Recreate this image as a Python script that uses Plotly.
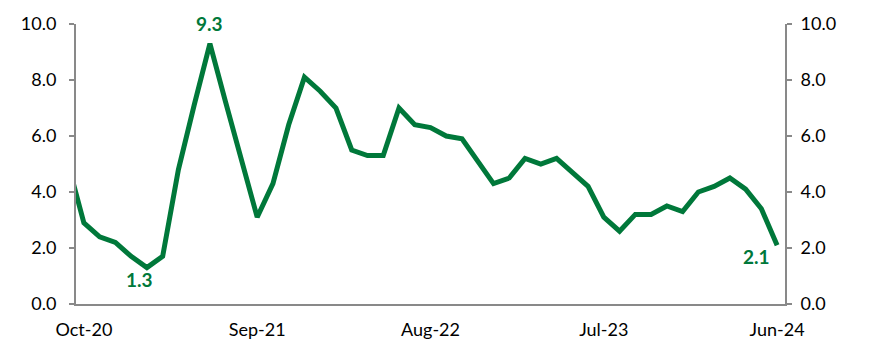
import plotly.graph_objects as go

months = ["Sep-20",
          "Oct-20", "Nov-20", "Dec-20", "Jan-21", "Feb-21", "Mar-21", "Apr-21", "May-21",
          "Jun-21", "Jul-21", "Aug-21", "Sep-21", "Oct-21", "Nov-21", "Dec-21", "Jan-22",
          "Feb-22", "Mar-22", "Apr-22", "May-22", "Jun-22", "Jul-22", "Aug-22", "Sep-22",
          "Oct-22", "Nov-22", "Dec-22", "Jan-23", "Feb-23", "Mar-23", "Apr-23", "May-23",
          "Jun-23", "Jul-23", "Aug-23", "Sep-23", "Oct-23", "Nov-23", "Dec-23", "Jan-24",
          "Feb-24", "Mar-24", "Apr-24", "May-24", "Jun-24"]
values = [5.0,
          2.9, 2.4, 2.2, 1.7, 1.3, 1.7, 4.8, 7.1,
          9.3, 7.2, 5.1, 3.1, 4.3, 6.4, 8.1, 7.6,
          7.0, 5.5, 5.3, 5.3, 7.0, 6.4, 6.3, 6.0,
          5.9, 5.1, 4.3, 4.5, 5.2, 5.0, 5.2, 4.7,
          4.2, 3.1, 2.6, 3.2, 3.2, 3.5, 3.3, 4.0,
          4.2, 4.5, 4.1, 3.4, 2.1]
tick_labels = ["Oct-20", "Sep-21", "Aug-22", "Jul-23", "Jun-24"]
y_ticks = [0, 2, 4, 6, 8, 10]
labelled = {"Jun-21": (0, 20), "Feb-21": (-7, -12), "Jun-24": (-21, -11)}

# month index, Oct-20 = 0
x = list(range(-1, len(months) - 1))
tick_pos = [x[months.index(m)] for m in tick_labels]

green = "#00783A"
axis_gray = "#898989"
font_family = "Lato, sans-serif"

fig = go.Figure()
fig.add_trace(go.Scatter(x=x, y=values, mode="lines",
                         line=dict(color=green, width=5), hoverinfo="skip",
                         showlegend=False))
fig.add_trace(go.Scatter(x=x, y=values, mode="lines", yaxis="y2",
                         line=dict(color=green, width=0), opacity=0,
                         hoverinfo="skip", showlegend=False))

for m, (dx, dy) in labelled.items():
    i = months.index(m)
    fig.add_annotation(x=x[i], y=values[i], text=f"<b>{values[i]:.1f}</b>",
                       showarrow=False, xshift=dx, yshift=dy,
                       xanchor="center", yanchor="middle",
                       font=dict(family=font_family, size=19, color=green))

axis_common = dict(range=[0, 10], tickvals=y_ticks,
                   ticktext=[f"{v:.1f}" for v in y_ticks],
                   showgrid=False, zeroline=False, showline=True,
                   linecolor=axis_gray, linewidth=2, automargin=False,
                   ticks="outside", ticklen=5, tickwidth=2, tickcolor=axis_gray,
                   tickfont=dict(family=font_family, size=18, color="#000000"))

fig.update_layout(
    width=870, height=356,
    margin=dict(l=68, r=93, t=16, b=60),
    paper_bgcolor="white", plot_bgcolor="white",
    xaxis=dict(range=[-0.5, 44.5], tickvals=tick_pos, ticktext=tick_labels,
               showgrid=False, zeroline=False, showline=True,
               linecolor=axis_gray, linewidth=2, automargin=False,
               ticks="outside", ticklen=8, tickcolor="rgba(0,0,0,0)",
               tickfont=dict(family=font_family, size=18, color="#000000")),
    yaxis=dict(**axis_common, ticklabelstandoff=9),
    yaxis2=dict(**axis_common, overlaying="y", side="right", ticklabelstandoff=5),
)

fig.write_html("out.html")
